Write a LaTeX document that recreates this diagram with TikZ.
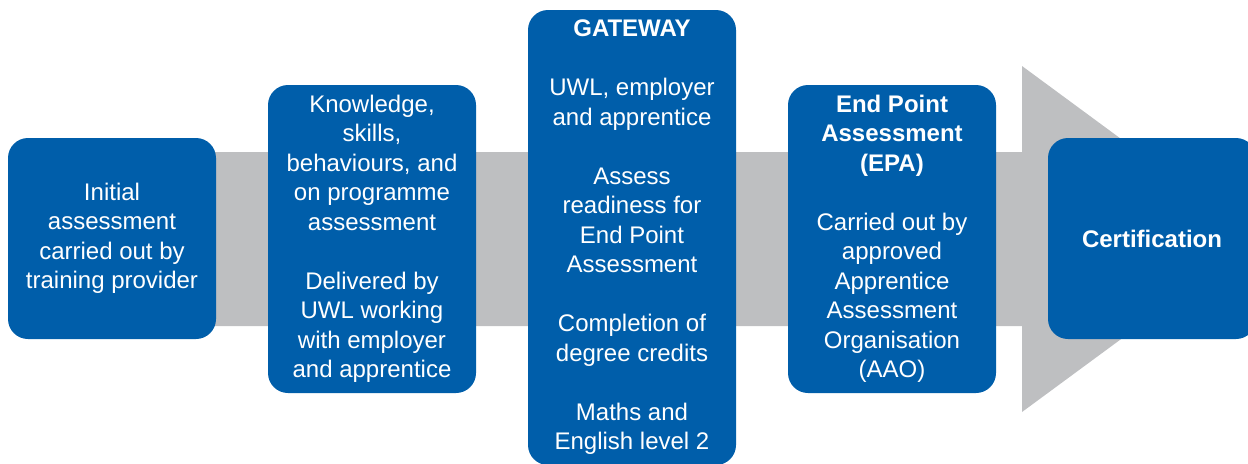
\documentclass[tikz,border=0pt]{standalone}
\usepackage{fontspec}
\setmainfont{Liberation Sans}
\definecolor{uwlblue}{RGB}{0,94,170}
\definecolor{flowgrey}{RGB}{190,191,193}

\begin{document}
\begin{tikzpicture}[x=0.5pt, y=-0.5pt,
    box/.style={rectangle, rounded corners=10pt, fill=uwlblue, text=white, align=center,
        minimum width=104pt, inner sep=0pt, font=\fontsize{12}{14.75}\selectfont}]
    \useasboundingbox (0,0) rectangle (1248,463);
    \fill[flowgrey] (200,152) -- (1022,152) -- (1022,66) -- (1257,239) -- (1022,412) -- (1022,326) -- (200,326) -- cycle;
    \node[box, minimum height=100.5pt] (init) at (112, 238.5) {Initial\\assessment\\carried out by\\training provider};
    \node[box, minimum height=154pt] (ksb) at (372, 239) {Knowledge,\\skills,\\behaviours, and\\on programme\\assessment\\[14.75pt]Delivered by\\UWL working\\with employer\\and apprentice};
    \node[box, minimum height=227.5pt] (gateway) at (632, 237.5) {\textbf{GATEWAY}\\[14.75pt]UWL, employer\\and apprentice\\[14.75pt]Assess\\readiness for\\End Point\\Assessment\\[14.75pt]Completion of\\degree credits\\[14.75pt]Maths and\\English level 2};
    \node[box, minimum height=154pt] (epa) at (892, 239) {\textbf{End Point}\\\textbf{Assessment}\\\textbf{(EPA)}\\[14.75pt]Carried out by\\approved\\Apprentice\\Assessment\\Organisation\\(AAO)};
    \node[box, minimum height=100.5pt] (cert) at (1152, 238.5) {\textbf{Certification}};
\end{tikzpicture}
\end{document}
